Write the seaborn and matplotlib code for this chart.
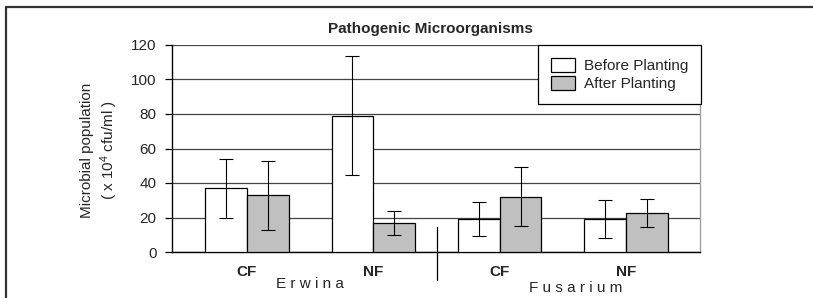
import matplotlib
matplotlib.use("Agg")
import matplotlib.pyplot as plt
import matplotlib.transforms as mtransforms
from matplotlib.lines import Line2D
import seaborn as sns
import pandas as pd

# Data
groups = ["Erwina", "Erwina", "Fusarium", "Fusarium"]
treatments = ["CF", "NF", "CF", "NF"]
before_mean = [37, 79, 19, 19]
before_err = [17, 34.5, 10, 11]
after_mean = [33, 17, 32, 22.5]
after_err = [20, 7, 17, 8]
stages = ["Before Planting", "After Planting"]
group_names = ["E r w i n a", "F u s a r i u m"]

keys = [g + " " + t for g, t in zip(groups, treatments)]
df = pd.DataFrame({
    "key": keys * 2,
    "stage": [stages[0]] * 4 + [stages[1]] * 4,
    "value": before_mean + after_mean,
})

sns.set_theme(style="white")
plt.rcParams["font.family"] = ["Liberation Sans", "DejaVu Sans"]
plt.rcParams["mathtext.fontset"] = "custom"
plt.rcParams["mathtext.rm"] = "Liberation Sans"
FS = 11

fig = plt.figure(figsize=(8.13, 2.98), dpi=100)
ax = fig.add_axes([172 / 813, 1 - 252 / 298, 528 / 813, 207 / 298])

sns.barplot(data=df, x="key", y="value", hue="stage", order=keys, hue_order=stages,
            palette=["white", "#c0c0c0"], width=0.66, edgecolor="black", linewidth=0.9,
            errorbar=None, saturation=1, ax=ax, zorder=3)

# error bars on top of each bar
for cont, errs in zip(ax.containers, [before_err, after_err]):
    xs = [b.get_x() + b.get_width() / 2 for b in cont]
    ys = [b.get_height() for b in cont]
    ax.errorbar(xs, ys, yerr=errs, fmt="none", ecolor="black", elinewidth=0.8,
                capsize=5, capthick=0.8, zorder=4)

ax.set_ylim(0, 120)
ax.set_xlim(-0.593, 3.585)
ax.set_yticks(range(0, 121, 20))
ax.yaxis.grid(True, color="#444444", linewidth=0.9)
ax.set_axisbelow(True)
ax.set_xlabel("")
ax.set_ylabel("")

ax.set_xticks(range(4))
ax.set_xticklabels(treatments, fontweight="bold", fontsize=FS)
ax.tick_params(axis="x", which="major", length=0, pad=9)
ax.set_xticks([-0.593, 3.585], minor=True)
ax.tick_params(axis="x", which="minor", length=5, width=0.9, color="black", direction="out")
ax.tick_params(axis="y", length=5, width=0.9, color="black", direction="out",
               labelsize=FS, pad=6, left=True)

for s in ["left", "bottom"]:
    ax.spines[s].set_color("black")
    ax.spines[s].set_linewidth(1.0)
ax.spines["right"].set_color("#999999")
ax.spines["right"].set_linewidth(0.9)
ax.spines["top"].set_visible(False)

# group labels and separator
trans = mtransforms.blended_transform_factory(ax.transData, ax.transAxes)
ax.text(0.5, -0.155, group_names[0], transform=trans, ha="center", va="center", fontsize=FS)
ax.text(2.6, -0.175, group_names[1], transform=trans, ha="center", va="center", fontsize=FS)
ax.plot([1.5, 1.5], [0.121, -0.135], transform=trans, color="black", lw=0.9, clip_on=False)

handles, labels = ax.get_legend_handles_labels()
leg = ax.legend(handles, labels, loc="upper right", bbox_to_anchor=(1.002, 1.0),
                borderaxespad=0, frameon=True, fancybox=False, framealpha=1,
                edgecolor="black", fontsize=FS, handlelength=1.55, handleheight=1.0,
                handletextpad=0.6, labelspacing=0.2, borderpad=0.85)
leg.get_frame().set_linewidth(0.9)
leg.set_zorder(5)

fig.text(430 / 813, 1 - 29 / 298, "Pathogenic Microorganisms", ha="center", va="center",
         fontsize=FS, fontweight="bold")
fig.text(100 / 813, 1 - 150 / 298, "Microbial population\n( x 10$\\mathregular{^4}$ cfu/ml )",
         rotation=90, ha="center", va="center", multialignment="center", fontsize=FS,
         linespacing=1.3)

# outer frame (left and top edges only, as in the cropped original)
fig.add_artist(Line2D([6 / 813, 6 / 813], [0, 1 - 7 / 298], transform=fig.transFigure,
                      color="#333333", lw=1.6))
fig.add_artist(Line2D([6 / 813, 1], [1 - 7 / 298, 1 - 7 / 298], transform=fig.transFigure,
                      color="#333333", lw=1.6))

fig.savefig("out.png", dpi=100)
